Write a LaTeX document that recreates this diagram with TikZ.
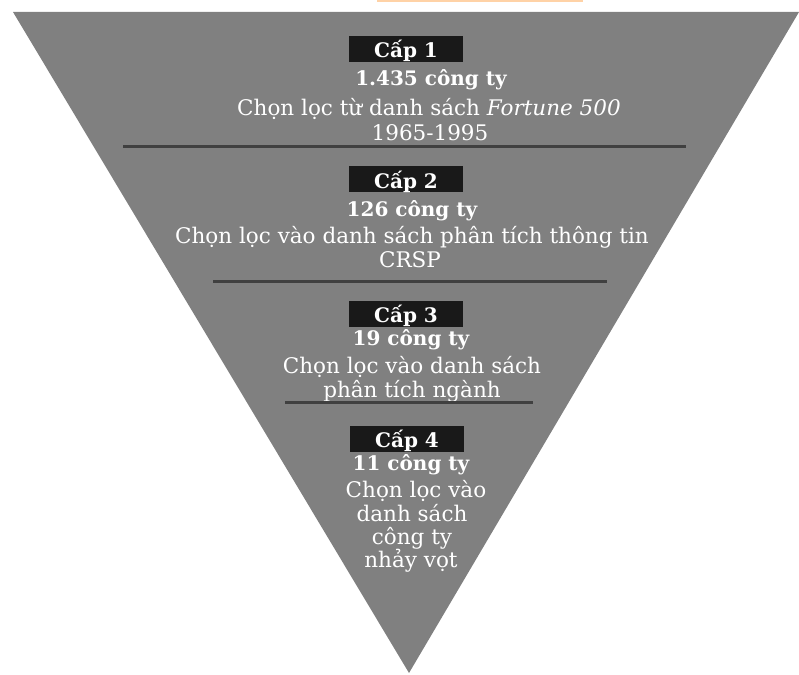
\documentclass[tikz,border=0pt]{standalone}
\usepackage{fontspec}
\setmainfont{DejaVu Serif}
\usetikzlibrary{calc}

\begin{document}
\begin{tikzpicture}[
    % 1 unit = 1 pixel of the reference, y grows downwards
    x=1pt, y=-1pt,
    funnel/.style={fill=black!50, draw=none},
    tier/.style={fill=black!90, text=white, inner xsep=0pt, inner ysep=2pt, minimum width=114pt, text height=20pt, text depth=2pt, font=\fontsize{20}{24}\selectfont\bfseries},
    count/.style={text=white, inner sep=0pt, anchor=base, font=\fontsize{20}{24}\selectfont\bfseries},
    desc/.style={text=white, inner sep=0pt, anchor=base, font=\fontsize{21.5}{24}\selectfont},
    divider/.style={draw=black!75, line width=3pt}
]
    \useasboundingbox (0,0) rectangle (799,674);

    % 1. Cut-off strip at the top and the funnel
    \fill[orange!35!white] (377,0) rectangle (583,2);
    \fill[funnel] (13,12) -- (799,12) -- (409,673) -- cycle;

    % 2. Tier 1
    \node[tier] (t1) at (406,49) {Cấp 1};
    \node[count] (t1num) at (431,86) {1.435 công ty};
    \node[desc] (t1a) at (429,115) {Chọn lọc từ danh sách \textit{Fortune 500}};
    \node[desc] (t1b) at (430,140) {1965-1995};
    \draw[divider] (123,146) -- (686,146);

    % 3. Tier 2
    \node[tier] (t2) at (406,179) {Cấp 2};
    \node[count] (t2num) at (412,216) {126 công ty};
    \node[desc] (t2a) at (412,243) {Chọn lọc vào danh sách phân tích thông tin};
    \node[desc] (t2b) at (410,267) {CRSP};
    \draw[divider] (213,281) -- (607,281);

    % 4. Tier 3
    \node[tier] (t3) at (406,313.5) {Cấp 3};
    \node[count] (t3num) at (411,345) {19 công ty};
    \node[desc] (t3a) at (412,373) {Chọn lọc vào danh sách};
    \node[desc] (t3b) at (412,397) {phân tích ngành};
    \draw[divider] (285,402) -- (533,402);

    % 5. Tier 4
    \node[tier] (t4) at (407,438.5) {Cấp 4};
    \node[count] (t4num) at (411,470) {11 công ty};
    \node[desc] (t4a) at (416,497) {Chọn lọc vào};
    \node[desc] (t4b) at (412,521) {danh sách};
    \node[desc] (t4c) at (412,544) {công ty};
    \node[desc] (t4d) at (411,567) {nhảy vọt};

\end{tikzpicture}
\end{document}
